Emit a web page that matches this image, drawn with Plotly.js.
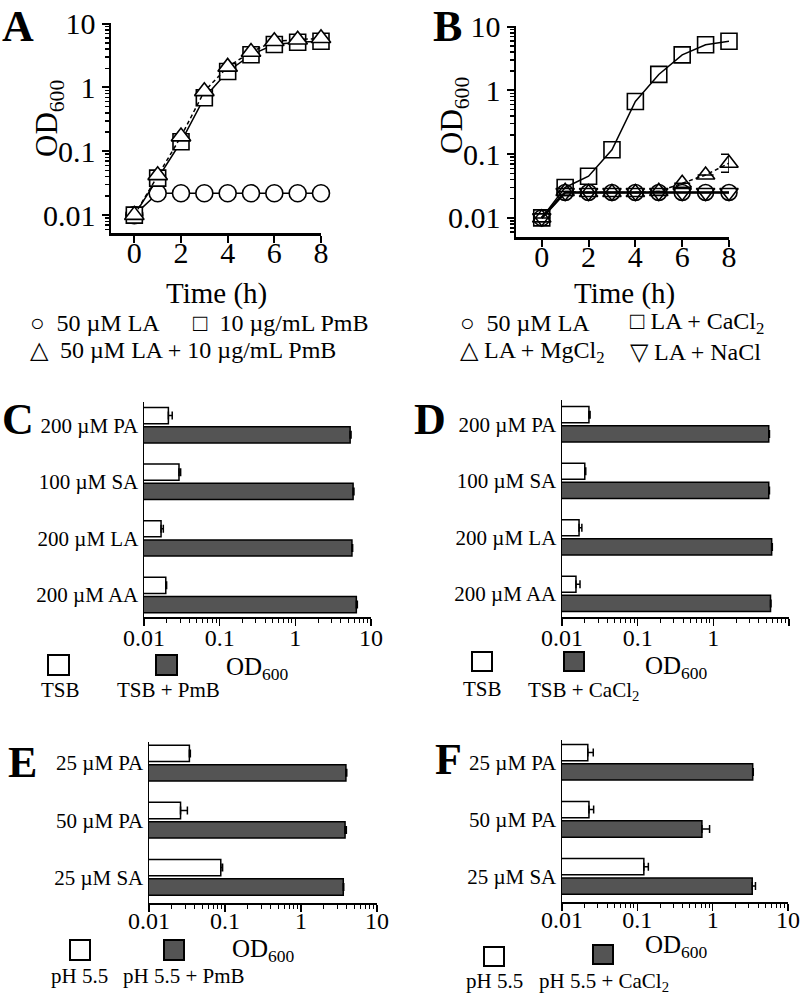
<!DOCTYPE html>
<html>
<head>
<meta charset="utf-8">
<script src="https://cdn.plot.ly/plotly-3.0.1.min.js"></script>
<style>html,body{margin:0;padding:0;background:#fff;}#chart{width:800px;height:994px;}</style>
</head>
<body>
<div id="chart"></div>
<script>
// ---------- DATA ----------
const timeH = [0, 1, 2, 3, 4, 5, 6, 7, 8];
// Panel A
const aLA      = [0.01, 0.022, 0.022, 0.022, 0.022, 0.022, 0.022, 0.022, 0.022];
const aPmB     = [0.01, 0.038, 0.141, 0.69, 1.78, 3.25, 4.7, 5.1, 5.3];
const aLAPmB   = [0.01, 0.042, 0.17, 0.87, 2.1, 3.6, 5.3, 5.6, 5.9];
// Panel B
const bLA      = [0.01, 0.025, 0.025, 0.025, 0.025, 0.025, 0.025, 0.025, 0.025];
const bCaCl2   = [0.01, 0.030, 0.045, 0.117, 0.67, 1.78, 3.6, 5.2, 5.9];
const bMgCl2   = [0.01, 0.026, 0.025, 0.025, 0.025, 0.026, 0.035, 0.047, 0.072];
const bMgErrUp = [null, null, null, null, null, null, null, null, 0.028];
const bMgErrDn = [null, null, null, null, null, null, null, null, 0.02];
const bNaCl    = [0.01, 0.025, 0.025, 0.025, 0.025, 0.025, 0.025, 0.025, 0.025];
// Panel C
const cCats    = ['200 µM PA', '100 µM SA', '200 µM LA', '200 µM AA'];
const cTSB     = [0.021, 0.029, 0.0168, 0.0194];
const cTSBErr  = [0.0026, 0.0015, 0.0012, 0.0005];
const cPmB     = [5.3, 5.8, 5.6, 6.4];
const cPmBErr  = [0.15, 0.15, 0.12, 0.2];
// Panel D
const dCats    = ['200 µM PA', '100 µM SA', '200 µM LA', '200 µM AA'];
const dTSB     = [0.0227, 0.020, 0.0168, 0.0153];
const dTSBErr  = [0.0008, 0.0006, 0.0015, 0.002];
const dCaCl2   = [5.4, 5.4, 5.9, 5.7];
const dCaErr   = [0.12, 0.12, 0.12, 0.08];
// Panel E
const eCats    = ['25 µM PA', '50 µM PA', '25 µM SA'];
const ePH      = [0.034, 0.026, 0.088];
const ePHErr   = [0.001, 0.006, 0.005];
const ePmB     = [3.9, 3.8, 3.6];
const ePmBErr  = [0.1, 0.15, 0.05];
// Panel F
const fCats    = ['25 µM PA', '50 µM PA', '25 µM SA'];
const fPH      = [0.022, 0.0228, 0.122];
const fPHErr   = [0.004, 0.0035, 0.018];
const fCaCl2   = [3.4, 0.72, 3.35];
const fCaErr   = [0.06, 0.19, 0.35];
// Tick labels
const logTickVals = [0.01, 0.1, 1, 10];
const logTickText = ['0.01', '0.1', '1', '10'];
const timeTicks   = [0, 2, 4, 6, 8];

// ---------- HELPERS ----------
const FONT = '"Liberation Serif", "Times New Roman", Times, serif';
const W = 800, H = 994;
const px = v => v / W;
const py = v => 1 - v / H;
const minorVals = [];
[0.001, 0.01, 0.1, 1].forEach(d => { for (let k = 2; k <= 9; k++) minorVals.push(+(d * k).toPrecision(3)); });
const zeros = arr => arr.map(() => 0);
const SP = '\u00a0\u00a0';
const SP1 = '\u00a0';

function lineTrace(x, y, xa, ya, symbol, size, dash, open) {
  return {
    type: 'scatter', mode: 'lines+markers', x: x, y: y, xaxis: xa, yaxis: ya,
    cliponaxis: false, showlegend: false,
    line: {color: 'black', width: 1.5, dash: dash || 'solid'},
    marker: open
      ? {symbol: symbol + '-open', size: size, color: 'black', line: {width: 1.6, color: 'black'}}
      : {symbol: symbol, size: size, color: 'white', line: {width: 1.6, color: 'black'}}
  };
}
function barTrace(vals, errs, cats, xa, ya, fill) {
  return {
    type: 'bar', orientation: 'h', x: vals, y: cats, xaxis: xa, yaxis: ya, showlegend: false,
    marker: {color: fill, line: {color: 'black', width: 1.5}},
    error_x: {type: 'data', symmetric: false, array: errs, arrayminus: zeros(errs),
              color: 'black', thickness: 1.5, width: 4}
  };
}

const traces = [
  lineTrace(timeH, aLA, 'x', 'y', 'circle', 17),
  lineTrace(timeH, aPmB, 'x', 'y', 'square', 16),
  lineTrace(timeH, aLAPmB, 'x', 'y', 'triangle-up', 17, '4px,3px'),
  lineTrace(timeH, bLA, 'x2', 'y2', 'circle', 16, null, true),
  lineTrace(timeH, bCaCl2, 'x2', 'y2', 'square', 16, null, true),
  Object.assign(lineTrace(timeH, bMgCl2, 'x2', 'y2', 'triangle-up', 16, '4px,3px', true),
    {error_y: {type: 'data', symmetric: false, array: bMgErrUp, arrayminus: bMgErrDn, color: 'black', thickness: 1.5, width: 8}}),
  Object.assign(lineTrace(timeH, bNaCl, 'x2', 'y2', 'triangle-down', 16, null, true), {line: {color: 'black', width: 2.5}}),
  barTrace(cTSB, cTSBErr, cCats, 'x3', 'y3', 'white'),
  barTrace(cPmB, cPmBErr, cCats, 'x3', 'y3', '#545454'),
  barTrace(dTSB, dTSBErr, dCats, 'x4', 'y4', 'white'),
  barTrace(dCaCl2, dCaErr, dCats, 'x4', 'y4', '#545454'),
  barTrace(ePH, ePHErr, eCats, 'x5', 'y5', 'white'),
  barTrace(ePmB, ePmBErr, eCats, 'x5', 'y5', '#545454'),
  barTrace(fPH, fPHErr, fCats, 'x6', 'y6', 'white'),
  barTrace(fCaCl2, fCaErr, fCats, 'x6', 'y6', '#545454')
];

// ---------- AXES ----------
function timeX(domain, range, anchor) {
  return {domain: domain, range: range, anchor: anchor, showline: true, linewidth: 2.5, linecolor: 'black',
    ticks: 'outside', ticklen: 7, tickwidth: 2, tickcolor: 'black', tickvals: timeTicks,
    ticklabelstandoff: -16,
    showgrid: false, zeroline: false, automargin: false,
    tickfont: {family: FONT, size: 30, color: 'black'}};
}
function odY(domain, range, anchor) {
  return {domain: domain, type: 'log', range: range, anchor: anchor, showline: true, linewidth: 2.5, linecolor: 'black',
    ticks: 'outside', ticklen: 7, tickwidth: 2, tickcolor: 'black',
    tickvals: logTickVals, ticktext: logTickText,
    minor: {tickvals: minorVals, ticks: 'outside', ticklen: 4, tickwidth: 1.5, tickcolor: 'black'},
    showgrid: false, zeroline: false, automargin: false,
    tickfont: {family: FONT, size: 30, color: 'black'}};
}
function odX(domain, anchor, standoff) {
  return {domain: domain, type: 'log', range: [-2, 1], anchor: anchor, showline: true, linewidth: 1.5, linecolor: 'black',
    ticks: 'outside', ticklen: 7, tickwidth: 1.2, tickcolor: 'black',
    tickvals: logTickVals, ticktext: logTickText, ticklabelstandoff: standoff,
    minor: {tickvals: minorVals, ticks: 'outside', ticklen: 4, tickwidth: 1, tickcolor: 'black'},
    showgrid: false, zeroline: false, automargin: false,
    tickfont: {family: FONT, size: 24, color: 'black'}};
}
function catY(domain, range, anchor) {
  return {domain: domain, type: 'category', range: range, anchor: anchor, showline: true, linewidth: 1.5, linecolor: 'black',
    ticks: '', showgrid: false, zeroline: false, automargin: false,
    tickfont: {family: FONT, size: 21, color: 'black'}};
}

// ---------- ANNOTATIONS ----------
function txt(x, y, text, size, opts) {
  return Object.assign({xref: 'paper', yref: 'paper', x: px(x), y: py(y), text: text, showarrow: false,
    xanchor: 'left', yanchor: 'middle', font: {family: FONT, size: size, color: 'black'}}, opts || {});
}
function letter(x, y, t, top) {
  return txt(x, y, '<b>' + t + '</b>', 44, top ? {xanchor: 'center', yanchor: 'top'} : {xanchor: 'center'});
}
const OD = 'OD<sub>600</sub>';
const annotations = [
  letter(18, 0, 'A', true), letter(447, 0, 'B', true), letter(18, 419, 'C'),
  letter(430, 419, 'D'), letter(22, 762, 'E'), letter(448, 759, 'F'),
  // axis titles
  txt(216, 293, 'Time (h)', 29, {xanchor: 'center'}),
  txt(624, 293, 'Time (h)', 29, {xanchor: 'center'}),
  txt(49, 119, OD, 31, {xanchor: 'center', textangle: -90}),
  txt(454, 116, OD, 31, {xanchor: 'center', textangle: -90}),
  txt(257, 668, OD, 25, {xanchor: 'center'}),
  txt(676, 667, OD, 25, {xanchor: 'center'}),
  txt(263, 950, OD, 25, {xanchor: 'center'}),
  txt(676, 946, OD, 25, {xanchor: 'center'}),
  // legends A/B
  txt(28, 323, '○' + SP + '50 µM LA', 24), txt(191, 323, '□' + SP + '10 µg/mL PmB', 24),
  txt(28, 350, '△' + SP + '50 µM LA + 10 µg/mL PmB', 24),
  txt(458, 323, '○' + SP1 + ' 50 µM LA', 24), txt(628, 323, '□' + SP1 + 'LA + CaCl<sub>2</sub>', 24),
  txt(458, 352, '△' + SP1 + 'LA + MgCl<sub>2</sub>', 24), txt(628, 352, '▽' + SP1 + 'LA + NaCl', 24),
  // legends C-F
  txt(60, 690, 'TSB', 21, {xanchor: 'center'}), txt(168, 690, 'TSB + PmB', 21, {xanchor: 'center'}),
  txt(482, 689, 'TSB', 21, {xanchor: 'center'}), txt(583, 691, 'TSB + CaCl<sub>2</sub>', 21, {xanchor: 'center'}),
  txt(79, 976, 'pH 5.5', 21, {xanchor: 'center'}), txt(184, 976, 'pH 5.5 + PmB', 21, {xanchor: 'center'}),
  txt(494, 981, 'pH 5.5', 21, {xanchor: 'center'}), txt(604, 982, 'pH 5.5 + CaCl<sub>2</sub>', 21, {xanchor: 'center'})
];
function keyBox(x0, y0, x1, y1, fill) {
  return {type: 'rect', xref: 'paper', yref: 'paper', x0: px(x0), x1: px(x1), y0: py(y1), y1: py(y0),
    fillcolor: fill, line: {color: 'black', width: 2}};
}
const shapes = [
  keyBox(48, 655, 69, 675, 'white'), keyBox(156, 655, 177, 675, '#545454'),
  keyBox(472, 652, 492, 671, 'white'), keyBox(564, 652, 584, 671, '#545454'),
  keyBox(70, 940, 90, 960, 'white'), keyBox(164, 940, 184, 960, '#545454'),
  keyBox(484, 947, 504, 966, 'white'), keyBox(593, 945, 613, 964, '#545454')
];

const layout = {
  width: W, height: H, margin: {l: 0, r: 0, t: 0, b: 0},
  paper_bgcolor: 'white', plot_bgcolor: 'rgba(0,0,0,0)',
  font: {family: FONT, color: 'black'},
  showlegend: false, barmode: 'group', bargap: 0.32, bargroupgap: 0.16,
  xaxis:  timeX([px(111), px(321)], [-1, 8], 'y'),
  yaxis:  odY([py(233), py(23)], [-2.28, 1.01], 'x'),
  xaxis2: timeX([px(516), px(729)], [-1.1, 8], 'y2'),
  yaxis2: odY([py(237), py(26)], [-2.3, 1.01], 'x2'),
  xaxis3: odX([px(144), px(371)], 'y3', -8),
  yaxis3: catY([py(617), py(402)], [3.39, -0.41], 'x3'),
  xaxis4: odX([px(562), px(789)], 'y4', -8),
  yaxis4: catY([py(617), py(400)], [3.41, -0.43], 'x4'),
  xaxis5: odX([px(149), px(377)], 'y5', -11),
  yaxis5: catY([py(903), py(742)], [2.45, -0.37], 'x5'),
  xaxis6: odX([px(562), px(788)], 'y6', -11),
  yaxis6: catY([py(902), py(740)], [2.45, -0.39], 'x6'),
  annotations: annotations, shapes: shapes
};

Plotly.newPlot('chart', traces, layout, {displayModeBar: false, staticPlot: true});
</script>
</body>
</html>
